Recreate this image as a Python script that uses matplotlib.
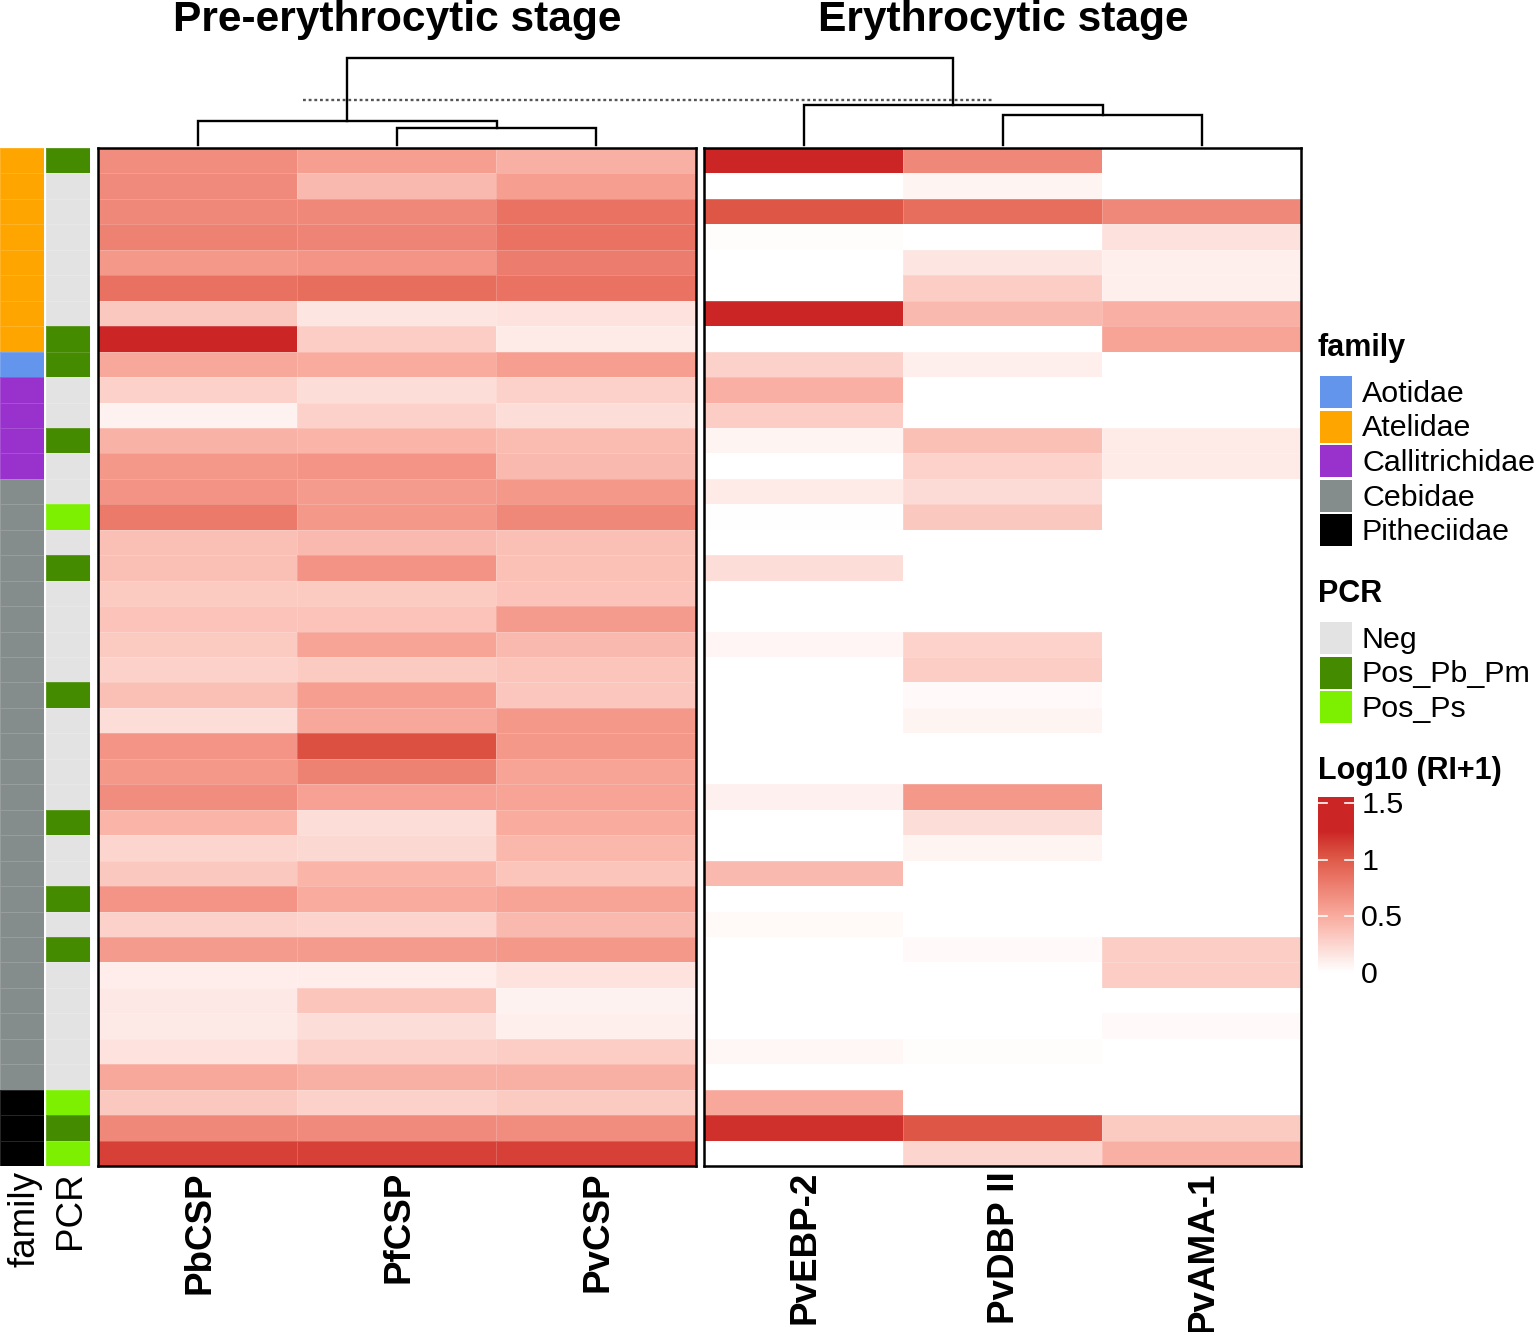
import numpy as np
import matplotlib
matplotlib.use('Agg')
import matplotlib.pyplot as plt
from matplotlib.colors import LinearSegmentedColormap, ListedColormap
from matplotlib.patches import Rectangle

plt.rcParams['font.family'] = ['Liberation Sans', 'DejaVu Sans']

W, H = 1535, 1332

pre_names = ['PbCSP', 'PfCSP', 'PvCSP']
ery_names = ['PvEBP-2', 'PvDBP II', 'PvAMA-1']

pre_values = [
    [.68, .58, .47], [.70, .42, .58], [.72, .72, .85], [.76, .74, .85],
    [.62, .64, .78], [.86, .88, .85], [.33, .15, .17], [1.25, .30, .12],
    [.52, .50, .58], [.28, .20, .28], [.08, .28, .20], [.46, .45, .40],
    [.62, .64, .42], [.65, .60, .62], [.80, .62, .72], [.38, .42, .38],
    [.38, .65, .37], [.32, .32, .36], [.36, .36, .60], [.32, .55, .42],
    [.28, .32, .35], [.38, .58, .34], [.20, .52, .62], [.64, 1.05, .62],
    [.62, .75, .55], [.68, .56, .55], [.45, .20, .50], [.25, .23, .43],
    [.33, .45, .35], [.64, .50, .55], [.28, .26, .42], [.60, .60, .62],
    [.11, .11, .17], [.14, .35, .08], [.13, .20, .10], [.17, .28, .30],
    [.52, .47, .47], [.33, .28, .32], [.72, .70, .68], [1.12, 1.12, 1.12],
]
ery_values = [
    [1.3, .72, 0], [0, .07, 0], [1.02, .88, .72], [.02, 0, .18],
    [0, .15, .10], [0, .30, .10], [1.3, .42, .48], [0, 0, .55],
    [.28, .10, 0], [.48, 0, 0], [.30, 0, 0], [.07, .38, .12],
    [0, .27, .12], [.12, .22, 0], [.01, .33, 0], [0, 0, 0],
    [.20, 0, 0], [0, 0, 0], [0, 0, 0], [.06, .27, 0],
    [0, .30, 0], [0, .03, 0], [0, .07, 0], [0, 0, 0],
    [0, 0, 0], [.09, .62, 0], [0, .20, 0], [0, .07, 0],
    [.42, 0, 0], [0, 0, 0], [.04, 0, 0], [0, .03, .30],
    [0, 0, .30], [0, 0, 0], [0, 0, .03], [.05, .02, 0],
    [0, 0, 0], [.52, 0, 0], [1.2, 1.02, .32], [0, .25, .47],
]

family_names = ['Aotidae', 'Atelidae', 'Callitrichidae', 'Cebidae', 'Pitheciidae']
family_colors = ['#6495ED', '#FFA500', '#9932CC', '#858C8C', '#000000']
family_rows = [1] * 8 + [0] + [2] * 4 + [3] * 24 + [4] * 3

pcr_names = ['Neg', 'Pos_Pb_Pm', 'Pos_Ps']
pcr_colors = ['#E3E3E3', '#458B00', '#7CF000']
pcr_rows = [1, 0, 0, 0, 0, 0, 0, 1, 1, 0, 0, 1, 0, 0, 2, 0, 1, 0, 0, 0,
            0, 1, 0, 0, 0, 0, 1, 0, 0, 1, 0, 1, 0, 0, 0, 0, 0, 2, 1, 2]

# dendrogram merge heights, in pixels above the heatmap top
pre_merge_low, pre_merge_high = 20, 27
ery_merge_low, ery_merge_high = 33, 43
root_height = 90
leaf_height = 3
cut_height = 48

cbar_ticks = [0, 0.5, 1, 1.5]
cbar_labels = ['0', '0.5', '1', '1.5']

cmap = LinearSegmentedColormap.from_list('ri', [
    (0.0, '#FFFFFF'), (0.5 / 1.5, '#F9AB9E'), (0.85 / 1.5, '#E97263'),
    (1.0 / 1.5, '#DF5B49'), (1.25 / 1.5, '#CC2525'), (1.0, '#CC2525')])

fig = plt.figure(figsize=(W / 100, H / 100), dpi=100)


def px_axes(x0, y0, x1, y1):
    return fig.add_axes([x0 / W, 1 - y1 / H, (x1 - x0) / W, (y1 - y0) / H])


def draw_heatmap(x0, x1, values, names):
    ax = px_axes(x0, 148, x1, 1166)
    ax.pcolormesh(np.array(values), cmap=cmap, vmin=0, vmax=1.5,
                  edgecolors=(1, 1, 1, 0.18), linewidth=0.6)
    ax.invert_yaxis()
    ax.set_xticks([])
    ax.set_yticks([])
    for s in ax.spines.values():
        s.set_linewidth(1.8)
    for i, name in enumerate(names):
        ax.text(i + 0.51, 40.2, name, rotation=90, ha='center', va='top',
                fontsize=26.5, fontweight='bold')


def draw_annotation(x0, x1, rows, colors, label):
    ax = px_axes(x0, 148, x1, 1166)
    ax.pcolormesh(np.array(rows).reshape(-1, 1), cmap=ListedColormap(colors),
                  vmin=-0.5, vmax=len(colors) - 0.5,
                  edgecolors=(1, 1, 1, 0.15), linewidth=0.6)
    ax.invert_yaxis()
    ax.axis('off')
    ax.text(0.56, 40.2, label, rotation=90, ha='center', va='top', fontsize=26.5)


draw_annotation(0, 44, family_rows, family_colors, 'family')
draw_annotation(46, 90, pcr_rows, pcr_colors, 'PCR')
draw_heatmap(98, 695.5, pre_values, pre_names)
draw_heatmap(704, 1301, ery_values, ery_names)

# overlay in pixel units for dendrogram and legends
ov = fig.add_axes([0, 0, 1, 1])
ov.set_xlim(0, W)
ov.set_ylim(H, 0)
ov.axis('off')
ov.patch.set_alpha(0)


def cols(x0, x1):
    w = (x1 - x0) / 3
    return [x0 + w * (i + 0.5) for i in range(3)]


def link(xa, ya, xb, yb, top):
    ov.plot([xa, xa, xb, xb], [148 - ya, 148 - top, 148 - top, 148 - yb],
            color='black', lw=1.7, solid_joinstyle='miter')


a, b, c = cols(98, 696)
link(b, leaf_height, c, leaf_height, pre_merge_low)
pre_mid = (b + c) / 2
link(a, leaf_height, pre_mid, pre_merge_low, pre_merge_high)
pre_top = (a + pre_mid) / 2

d, e, f = cols(704, 1302)
link(e, leaf_height, f, leaf_height, ery_merge_low)
ery_mid = (e + f) / 2
link(d, leaf_height, ery_mid, ery_merge_low, ery_merge_high)
ery_top = (d + ery_mid) / 2

link(pre_top, pre_merge_high, ery_top, ery_merge_high, root_height)
ov.plot([303, 992], [148 - cut_height] * 2, color='#555555', lw=1.7, ls=(0, (1.2, 1.2)))

ov.text(397, 20, 'Pre-erythrocytic stage', ha='center', va='center',
        fontsize=30.6, fontweight='bold')
ov.text(1003, 20, 'Erythrocytic stage', ha='center', va='center',
        fontsize=30.6, fontweight='bold')


def draw_legend(y_title, title, names, colors):
    ov.text(1318, y_title, title, fontsize=22, fontweight='bold', va='center')
    for i, (name, col) in enumerate(zip(names, colors)):
        y = y_title + 28 + i * 34.5
        ov.add_patch(Rectangle((1320, y), 32, 32, facecolor=col, edgecolor='none'))
        ov.text(1362, y + 18, name, fontsize=21.9, va='center')


draw_legend(348, 'family', family_names, family_colors)
draw_legend(594, 'PCR', pcr_names, pcr_colors)

ov.text(1318, 771, 'Log10 (RI+1)', fontsize=22, fontweight='bold', va='center')

# colour bar, 0 at y=973, 1.5 at y=803
cax = px_axes(1318, 797, 1354, 975)
lo, hi = -0.02, 1.553
grad = np.linspace(lo, hi, 300).reshape(-1, 1)
cax.imshow(grad, origin='lower', aspect='auto', cmap=cmap, vmin=0, vmax=1.5,
           extent=[0, 1, lo, hi])
cax.set_xlim(0, 1)
cax.set_ylim(lo, hi)
cax.axis('off')
for t, lab in zip(cbar_ticks, cbar_labels):
    if t > 0:
        cax.plot([0, 0.25], [t, t], color='white', lw=1.2)
        cax.plot([0.75, 1], [t, t], color='white', lw=1.2)
    cax.text(1.2, t - 0.02, lab, fontsize=21.9, va='center', clip_on=False)

fig.savefig('out.png', dpi=100)
